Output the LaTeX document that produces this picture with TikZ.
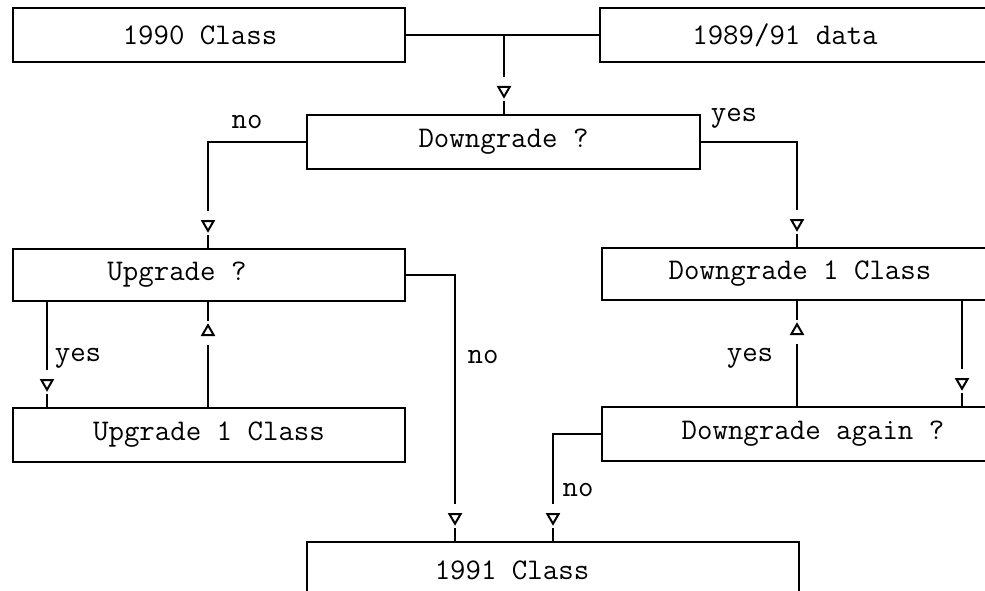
\documentclass[tikz,border=0pt]{standalone}
\usepackage{fontspec}
\usetikzlibrary{calc,shapes.geometric}
\begin{document}
\begin{tikzpicture}[x=1pt,y=-1pt,
  every node/.style={font=\ttfamily\fontsize{30}{34}\selectfont},
  box/.style={draw,line width=1.5pt,rectangle,inner sep=0pt,minimum height=54pt},
  lbl/.style={inner sep=0pt,anchor=center},
  ln/.style={line width=1.5pt},
  gapnode/.style={fill=white,draw=none,inner sep=0pt,minimum width=8pt,minimum height=24pt},
  tridown/.style={regular polygon,regular polygon sides=3,shape border rotate=180,draw,fill=white,line width=2pt,inner sep=0pt,minimum size=13pt},
  triup/.style={regular polygon,regular polygon sides=3,draw,fill=white,line width=2pt,inner sep=0pt,minimum size=13pt}
]
\clip (0,0) rectangle (985,591);
\fill[white] (0,0) rectangle (985,591);

% boxes
\node[box,minimum width=392pt,label={[lbl,xshift=-9pt]center:1990 Class}] (b1990) at (209,35) {};
\node[box,minimum width=400pt,label={[lbl,xshift=-15pt]center:1989/91 data}] (b8991) at (800,35) {};
\node[box,minimum width=393pt,label={[lbl]center:Downgrade ?}] (bdown) at (503.5,142) {};
\node[box,minimum width=392pt,minimum height=52pt,label={[lbl,xshift=-32pt]center:Upgrade ?}] (bup) at (209,275) {};
\node[box,minimum width=408pt,minimum height=52pt,label={[lbl,xshift=-6pt]center:Downgrade 1 Class}] (bd1) at (806,274) {};
\node[box,minimum width=392pt,label={[lbl]center:Upgrade 1 Class}] (bu1) at (209,435) {};
\node[box,minimum width=408pt,label={[lbl,xshift=7pt]center:Downgrade again ?}] (bda) at (806,434) {};
\node[box,minimum width=492pt,label={[lbl,xshift=-41pt,yshift=-1pt]center:1991 Class}] (b1991) at (553,569) {};

% x positions of the vertical connectors
\coordinate (xj) at (504,35);
\coordinate (xa) at (208,0);
\coordinate (xb) at (797,0);
\coordinate (xc) at (47,0);
\coordinate (xd) at (455,0);
\coordinate (xe) at (962,0);
\coordinate (xf) at (553,0);

% connectors
\draw[ln] (b1990.east) -- (b8991.west);
\draw[ln] (xj) -- (bdown.north -| xj);
\draw[ln] (bdown.west) -| (bup.north -| xa);
\draw[ln] (bdown.east) -| (bd1.north -| xb);
\draw[ln] (bup.south -| xc) -- (bu1.north -| xc);
\draw[ln] (bu1.north -| xa) -- (bup.south -| xa);
\draw[ln] (bup.east |- 0,275) -| (b1991.north -| xd);
\draw[ln] (bd1.south -| xe) -- (bda.north -| xe);
\draw[ln] (bda.north -| xb) -- (bd1.south -| xb);
\draw[ln] (bda.west) -| (b1991.north -| xf);

% arrow marks (gap + open triangle)
\foreach \n/\p in {a1/{bdown.north -| xj}, a2/{bup.north -| xa}, a3/{bd1.north -| xb},
                   a4/{bu1.north -| xc}, a5/{bda.north -| xe}, a6/{b1991.north -| xd}, a7/{b1991.north -| xf}}{
  \node[gapnode] (g\n) at ($(\p)+(0,-25)$) {};
  \node[tridown] (t\n) at ($(\p)+(0,-24)$) {};
}
\foreach \n/\p in {u1/{bup.south -| xa}, u2/{bd1.south -| xb}}{
  \node[gapnode] (g\n) at ($(\p)+(0,31)$) {};
  \node[triup] (t\n) at ($(\p)+(0,30)$) {};
}

% labels
\node[lbl] (lno1) at (247,122) {no};
\node[lbl] (lyes1) at (734,118) {yes};
\node[lbl] (lyes2) at (78,358) {yes};
\node[lbl] (lno2) at (483,357) {no};
\node[lbl] (lyes3) at (750,358) {yes};
\node[lbl] (lno3) at (578,490) {no};
\end{tikzpicture}
\end{document}
